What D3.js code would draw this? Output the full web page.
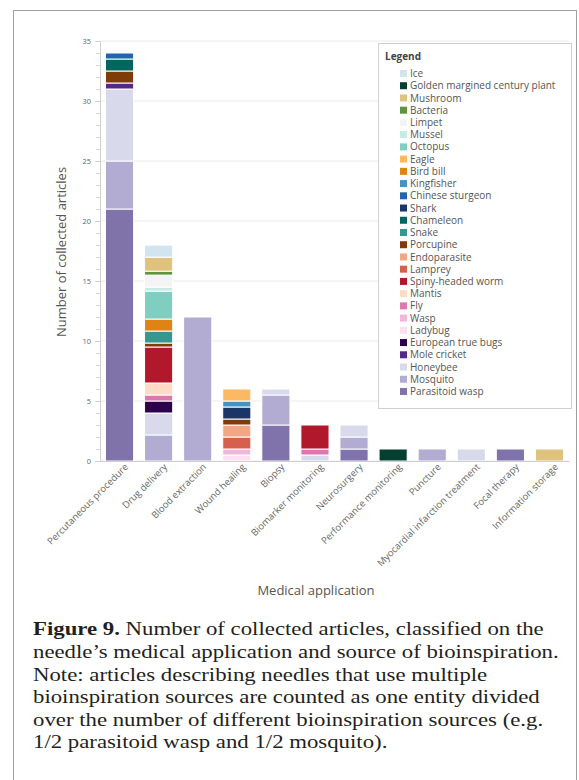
<!DOCTYPE html>
<html lang="en">
<head>
<meta charset="utf-8">
<title>Bioinspired needles by medical application</title>
<script src="https://d3js.org/d3.v7.min.js"></script>
<style>
  body { margin: 0; background: #fff; }
  .tick text { fill: #666; }
</style>
</head>
<body>
<script>
// categories on the x axis
var categories = ["Percutaneous procedure", "Drug delivery", "Blood extraction", "Wound healing",
  "Biopsy", "Biomarker monitoring", "Neurosurgery", "Performance monitoring", "Puncture",
  "Myocardial infarction treatment", "Focal therapy", "Information storage"];

// legend order (top to bottom)
var species = ["Ice", "Golden margined century plant", "Mushroom", "Bacteria", "Limpet", "Mussel",
  "Octopus", "Eagle", "Bird bill", "Kingfisher", "Chinese sturgeon", "Shark", "Chameleon", "Snake",
  "Porcupine", "Endoparasite", "Lamprey", "Spiny-headed worm", "Mantis", "Fly", "Wasp", "Ladybug",
  "European true bugs", "Mole cricket", "Honeybee", "Mosquito", "Parasitoid wasp"];

var colors = ["#d1e5f0", "#053f2f", "#dfc27d", "#5f9340", "#f4f4f4", "#c7eae5",
  "#80cdc1", "#fdb863", "#e08214", "#4393c3", "#2166ac", "#1a3566", "#01665e", "#35978f",
  "#7f3b08", "#f4a582", "#d6604d", "#b2182b", "#fddbc7", "#de77ae", "#f1b6da", "#fde0ef",
  "#2d004b", "#542788", "#d8daeb", "#b2abd2", "#8073ac"];

// articles per category, one array per source of bioinspiration
var ice            = [0, 1, 0, 0, 0, 0, 0, 0, 0, 0, 0, 0];
var centuryPlant   = [0, 0, 0, 0, 0, 0, 0, 1, 0, 0, 0, 0];
var mushroom       = [0, 1.17, 0, 0, 0, 0, 0, 0, 0, 0, 0, 1];
var bacteria       = [0, 0.33, 0, 0, 0, 0, 0, 0, 0, 0, 0, 0];
var limpet         = [0, 1, 0, 0, 0, 0, 0, 0, 0, 0, 0, 0];
var mussel         = [0, 0.33, 0, 0, 0, 0, 0, 0, 0, 0, 0, 0];
var octopus        = [0, 2.33, 0, 0, 0, 0, 0, 0, 0, 0, 0, 0];
var eagle          = [0, 0, 0, 1, 0, 0, 0, 0, 0, 0, 0, 0];
var birdBill       = [0, 1, 0, 0, 0, 0, 0, 0, 0, 0, 0, 0];
var kingfisher     = [0, 0, 0, 0.5, 0, 0, 0, 0, 0, 0, 0, 0];
var sturgeon       = [0.5, 0, 0, 0, 0, 0, 0, 0, 0, 0, 0, 0];
var shark          = [0, 0, 0, 1, 0, 0, 0, 0, 0, 0, 0, 0];
var chameleon      = [1, 0, 0, 0, 0, 0, 0, 0, 0, 0, 0, 0];
var snake          = [0, 1, 0, 0, 0, 0, 0, 0, 0, 0, 0, 0];
var porcupine      = [1, 0.33, 0, 0.5, 0, 0, 0, 0, 0, 0, 0, 0];
var endoparasite   = [0, 0, 0, 1, 0, 0, 0, 0, 0, 0, 0, 0];
var lamprey        = [0, 0, 0, 1, 0, 0, 0, 0, 0, 0, 0, 0];
var spinyWorm      = [0, 3, 0, 0, 0, 2, 0, 0, 0, 0, 0, 0];
var mantis         = [0, 1, 0, 0, 0, 0, 0, 0, 0, 0, 0, 0];
var fly            = [0, 0.5, 0, 0, 0, 0.5, 0, 0, 0, 0, 0, 0];
var wasp           = [0, 0, 0, 0.5, 0, 0, 0, 0, 0, 0, 0, 0];
var ladybug        = [0, 0, 0, 0.5, 0, 0, 0, 0, 0, 0, 0, 0];
var trueBugs       = [0, 1, 0, 0, 0, 0, 0, 0, 0, 0, 0, 0];
var moleCricket    = [0.5, 0, 0, 0, 0, 0, 0, 0, 0, 0, 0, 0];
var honeybee       = [6, 1.83, 0, 0, 0.5, 0.5, 1, 0, 0, 1, 0, 0];
var mosquito       = [4, 2.17, 12, 0, 2.5, 0, 1, 0, 1, 0, 0, 0];
var parasitoidWasp = [21, 0, 0, 0, 3, 0, 1, 0, 0, 0, 1, 0];

var yTicks = [0, 5, 10, 15, 20, 25, 30, 35];

var series = [ice, centuryPlant, mushroom, bacteria, limpet, mussel, octopus, eagle, birdBill,
  kingfisher, sturgeon, shark, chameleon, snake, porcupine, endoparasite, lamprey, spinyWorm,
  mantis, fly, wasp, ladybug, trueBugs, moleCricket, honeybee, mosquito, parasitoidWasp];

var w = 579, h = 780;
var margin = {top: 41, left: 100, right: 10, bottom: 319};
var innerWidth = 469, innerHeight = 420;

var svg = d3.select("body").append("svg")
  .attr("width", w)
  .attr("height", h);

// figure frame
svg.append("rect")
  .attr("x", 13.5).attr("y", 10.5)
  .attr("width", 563).attr("height", 800)
  .attr("fill", "none")
  .attr("stroke", "#a0a0a0");

// table rows for the stack
var table = categories.map(function(c, i) {
  var row = {cat: c};
  species.forEach(function(s, j) { row[s] = series[j][i]; });
  return row;
});

var stack = d3.stack().keys(species.slice().reverse());
var layers = stack(table);

var color = d3.scaleOrdinal().domain(species).range(colors);

var xScale = d3.scaleBand()
  .domain(categories)
  .range([0, innerWidth])
  .paddingInner(0.28)
  .paddingOuter(0.14);

var yScale = d3.scaleLinear()
  .domain([0, 35])
  .range([innerHeight, 0]);

var g = svg.append("g")
  .attr("transform", `translate(${margin.left}, ${margin.top})`);

// grid lines every 5
g.append("g")
  .selectAll("line")
  .data(yTicks)
  .enter().append("line")
  .attr("x1", 0).attr("x2", innerWidth)
  .attr("y1", d => yScale(d)).attr("y2", d => yScale(d))
  .attr("stroke", "#ebebeb");

// minor ticks
var yMinor = d3.axisLeft(yScale).ticks(35).tickSize(4).tickFormat("");
g.append("g").call(yMinor)
  .call(a => a.select(".domain").remove())
  .call(a => a.selectAll("text").remove())
  .selectAll("line").attr("stroke", "#d6d6d6");

var yAxis = d3.axisLeft(yScale).tickValues(yTicks).tickSize(5).tickPadding(4);
g.append("g")
  .call(yAxis)
  .call(a => a.select(".domain").attr("stroke", "#cfcfcf"))
  .call(a => a.selectAll(".tick line").attr("stroke", "#cfcfcf"))
  .call(a => a.selectAll("text").attr("font-family", "Open Sans").attr("font-size", "7.5px"));

// bars
g.append("g")
  .selectAll("g")
  .data(layers)
  .enter().append("g")
  .attr("fill", d => color(d.key))
  .selectAll("rect")
  .data(d => d.filter(p => p[1] - p[0] > 0))
  .enter().append("rect")
  .attr("x", d => xScale(d.data.cat))
  .attr("width", xScale.bandwidth())
  .attr("y", d => yScale(d[1]))
  .attr("height", d => yScale(d[0]) - yScale(d[1]))
  .attr("stroke", "#fff")
  .attr("stroke-width", 1);

var xAxis = d3.axisBottom(xScale).tickSize(0).tickPadding(6);
g.append("g")
  .attr("transform", `translate(0, ${innerHeight})`)
  .call(xAxis)
  .call(a => a.select(".domain").attr("stroke", "#cfcfcf"))
  .selectAll("text")
  .attr("font-family", "Open Sans")
  .attr("font-size", "9.5px")
  .attr("fill", "#777")
  .attr("text-anchor", "end")
  .attr("dx", "0.2em")
  .attr("dy", "0.55em")
  .attr("transform", "rotate(-45)");

// axis titles
svg.append("text")
  .attr("transform", "translate(66, 252) rotate(-90)")
  .attr("text-anchor", "middle")
  .attr("font-family", "Open Sans")
  .attr("font-size", "13px")
  .attr("fill", "#555")
  .text("Number of collected articles");

svg.append("text")
  .attr("x", 316).attr("y", 595)
  .attr("text-anchor", "middle")
  .attr("font-family", "Open Sans")
  .attr("font-size", "13px")
  .attr("fill", "#555")
  .text("Medical application");

// legend
var legend = svg.append("g").attr("transform", "translate(378, 43)");
legend.append("rect")
  .attr("x", 0.5).attr("y", 0.5)
  .attr("width", 193).attr("height", 365)
  .attr("fill", "#fff")
  .attr("stroke", "#cfcfcf");
legend.append("text")
  .attr("x", 7).attr("y", 17)
  .attr("font-family", "Open Sans")
  .attr("font-weight", "bold")
  .attr("font-size", "10px")
  .attr("fill", "#444")
  .text("Legend");

var item = legend.selectAll(".item")
  .data(species)
  .enter().append("g")
  .attr("class", "item")
  .attr("transform", (d, i) => `translate(22, ${30.5 + i * 12.23})`);
item.append("rect")
  .attr("x", 0).attr("y", -3.5)
  .attr("width", 7).attr("height", 7)
  .attr("fill", d => color(d));
item.append("text")
  .attr("x", 10).attr("y", 3.6)
  .attr("font-family", "Open Sans")
  .attr("font-size", "10px")
  .attr("fill", "#555")
  .text(d => d);

// caption
var caption = [
  ["Figure 9.", " Number of collected articles, classified on the"],
  ["", "needle\u2019s medical application and source of bioinspiration."],
  ["", "Note: articles describing needles that use multiple"],
  ["", "bioinspiration sources are counted as one entity divided"],
  ["", "over the number of different bioinspiration sources (e.g."],
  ["", "1/2 parasitoid wasp and 1/2 mosquito)."]
];
var cap = svg.append("text")
  .attr("transform", "translate(33, 0) scale(1.2, 1)")
  .attr("font-family", "Liberation Serif")
  .attr("font-size", "19px")
  .attr("fill", "#231f20");
caption.forEach(function(line, i) {
  var t = cap.append("tspan").attr("x", 0).attr("y", 635.5 + i * 22.6);
  if (line[0]) t.attr("font-weight", "bold").text(line[0]);
  var r = cap.append("tspan").text(line[1]);
  if (!line[0]) r.attr("x", 0).attr("y", 635.5 + i * 22.6);
});
</script>
</body>
</html>
